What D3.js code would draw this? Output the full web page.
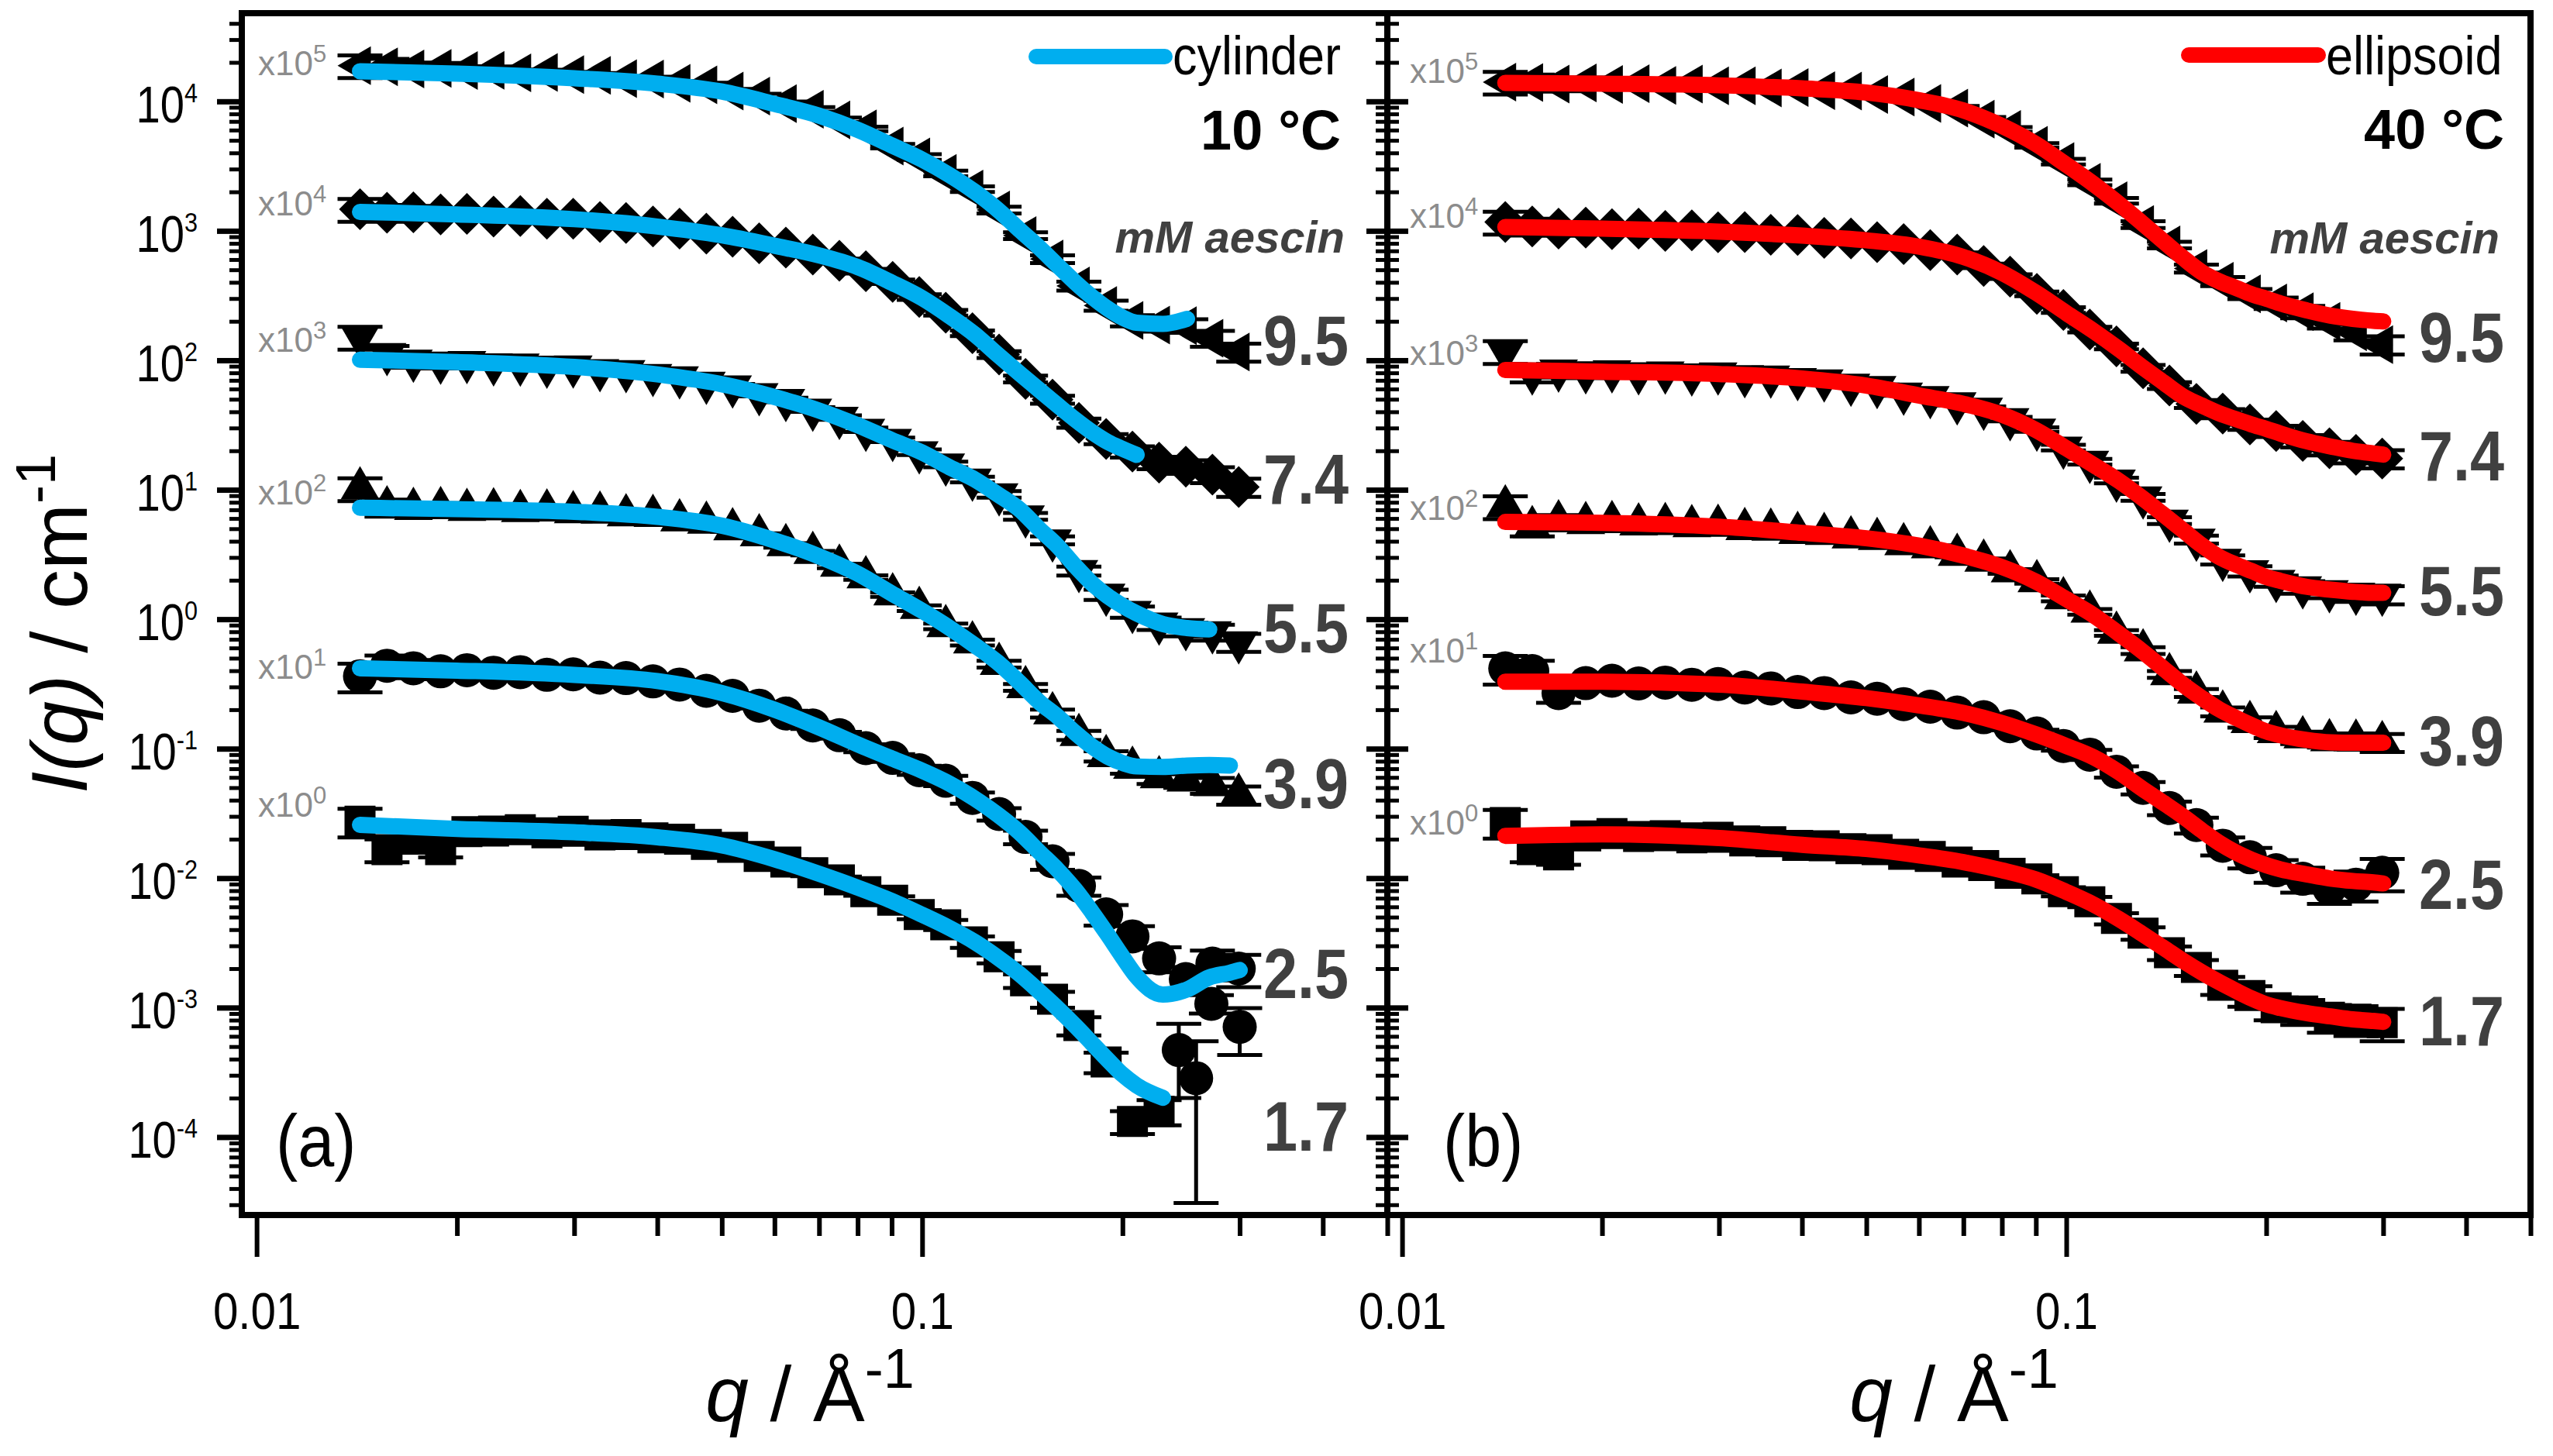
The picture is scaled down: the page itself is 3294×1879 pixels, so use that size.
<!DOCTYPE html>
<html>
<head>
<meta charset="utf-8">
<script src="https://cdn.jsdelivr.net/npm/d3@7"></script>
<style>
  body { margin: 0; background: #fff; }
  svg { display: block; background: #fff; }
  text { font-family: "Liberation Sans", Arial, Helvetica, sans-serif; }
</style>
</head>
<body>
<svg id="chart" width="3294" height="1879"></svg>
<script>
// q grids (1/Å)
const qFit = [0.0143, 0.02, 0.03, 0.04, 0.05, 0.06, 0.07, 0.08, 0.09, 0.10, 0.11, 0.12, 0.13,
  0.14, 0.15, 0.16, 0.17, 0.18, 0.19, 0.20, 0.21, 0.23, 0.25, 0.27, 0.29, 0.30];
const qData = [0.0143, 0.0157, 0.0172, 0.0189, 0.0207, 0.0227, 0.0249, 0.0273, 0.0299, 0.0328,
  0.0359, 0.0394, 0.0432, 0.0474, 0.0519, 0.0569, 0.0624, 0.0685, 0.0751, 0.0823, 0.0903,
  0.0990, 0.1085, 0.119, 0.1305, 0.143, 0.157, 0.172, 0.189, 0.207, 0.227, 0.249, 0.273, 0.299];

// series: mM aescin, vertical offset (x10^n), marker
const concLabels = ["9.5", "7.4", "5.5", "3.9", "2.5", "1.7"];
const offsetExp = [5, 4, 3, 2, 1, 0];
const markerShapes = ["left", "diamond", "down", "up", "circle", "square"];

// relative errors (upper four series / lower two series)
const relErrHigh = [0.20, 0.15, 0.12, 0.10, 0.08, 0.07, 0.06, 0.05, 0.05, 0.04, 0.04, 0.04, 0.04,
  0.04, 0.04, 0.04, 0.04, 0.04, 0.04, 0.04, 0.04, 0.05, 0.05, 0.05, 0.06, 0.06, 0.07, 0.08,
  0.09, 0.10, 0.11, 0.12, 0.14, 0.16];
const relErrLow = [0.25, 0.20, 0.16, 0.13, 0.11, 0.09, 0.08, 0.07, 0.06, 0.05, 0.05, 0.05, 0.05,
  0.05, 0.05, 0.05, 0.05, 0.06, 0.06, 0.07, 0.07, 0.08, 0.09, 0.10, 0.11, 0.12, 0.14, 0.16,
  0.18, 0.20, 0.22, 0.24, 0.26, 0.28];

// (a) 10 °C - cylinder fits, I(q) in cm^-1 (before offset)
const cyl95 = [0.171, 0.164, 0.151, 0.137, 0.119, 0.0955, 0.0776, 0.0603, 0.0457, 0.0355, 0.0269,
  0.0200, 0.0145, 0.0102, 0.00741, 0.00537, 0.00398, 0.00309, 0.00251, 0.00214, 0.00195, 0.00191, 0.00209];
const cyl74 = [0.140, 0.134, 0.123, 0.108, 0.0923, 0.0767, 0.0646, 0.0525, 0.0398, 0.0302, 0.0219,
  0.0158, 0.0110, 0.00794, 0.00589, 0.00447, 0.00347, 0.00279, 0.00234, 0.00207, 0.00186];
const cyl55 = [0.101, 0.0968, 0.0889, 0.0778, 0.0653, 0.0520, 0.0409, 0.0315, 0.0242, 0.0194, 0.0149,
  0.0120, 0.00918, 0.00706, 0.00497, 0.00365, 0.00256, 0.00189, 0.00151, 0.00127, 0.00111,
  0.000918, 0.000855, 0.000834];
const cyl39 = [0.0726, 0.0708, 0.0676, 0.0618, 0.0528, 0.0406, 0.0306, 0.0225, 0.0158, 0.0116,
  0.00855, 0.00628, 0.00462, 0.00325, 0.00229, 0.00176, 0.00132, 0.00104, 0.000869, 0.000776,
  0.000729, 0.000723, 0.000741, 0.000748, 0.000741];
const cyl25 = [0.0418, 0.0401, 0.0371, 0.0333, 0.0269, 0.0200, 0.0146, 0.0108, 0.00841, 0.00676,
  0.00536, 0.00411, 0.00308, 0.00226, 0.00159, 0.00115, 0.000809, 0.000545, 0.000366, 0.000247,
  0.000174, 0.000126, 0.000138, 0.000171, 0.000186, 0.000195];
const cyl17 = [0.0258, 0.0240, 0.0226, 0.0207, 0.0179, 0.0140, 0.0108, 0.00845, 0.00667, 0.00521,
  0.00411, 0.00321, 0.00243, 0.00182, 0.00133, 0.000980, 0.000721, 0.000530, 0.000396, 0.000304,
  0.000251, 0.000201];

// (a) 10 °C - measured data on qData
const d10_95 = [0.189, 0.185, 0.178, 0.180, 0.173, 0.174, 0.166, 0.167, 0.161, 0.159, 0.150, 0.149,
  0.138, 0.134, 0.120, 0.110, 0.0960, 0.0868, 0.0720, 0.0613, 0.0451, 0.0372, 0.0278, 0.0210,
  0.0145, 0.00920, 0.00605, 0.00375, 0.00265, 0.00203, 0.00187, 0.00185, 0.00148, 0.00116];
const d10_74 = [0.147, 0.138, 0.139, 0.134, 0.135, 0.129, 0.130, 0.124, 0.124, 0.117, 0.115, 0.108,
  0.104, 0.0951, 0.0902, 0.0800, 0.0743, 0.0655, 0.0587, 0.0488, 0.0404, 0.0308, 0.0233, 0.0162,
  0.0111, 0.00718, 0.00497, 0.00328, 0.00247, 0.00197, 0.00162, 0.00151, 0.00131, 0.00105];
const d10_55 = [0.151, 0.112, 0.0995, 0.0962, 0.0973, 0.0933, 0.0931, 0.0895, 0.0897, 0.0841, 0.0826,
  0.0773, 0.0740, 0.0673, 0.0631, 0.0548, 0.0495, 0.0417, 0.0361, 0.0291, 0.0243, 0.0195, 0.0157,
  0.0120, 0.00923, 0.00624, 0.00407, 0.00236, 0.00155, 0.00114, 0.000929, 0.000839, 0.000794, 0.000665];
const d10_39 = [0.102, 0.0729, 0.0708, 0.0718, 0.0697, 0.0705, 0.0682, 0.0690, 0.0668, 0.0664, 0.0632,
  0.0627, 0.0579, 0.0556, 0.0494, 0.0443, 0.0372, 0.0324, 0.0258, 0.0210, 0.0155, 0.0122, 0.00881,
  0.00661, 0.00450, 0.00298, 0.00187, 0.00127, 0.000875, 0.000711, 0.000600, 0.000566, 0.000521, 0.000440];
const d10_25 = [0.0363, 0.0437, 0.0418, 0.0396, 0.0404, 0.0386, 0.0390, 0.0372, 0.0375, 0.0354, 0.0351,
  0.0331, 0.0313, 0.0280, 0.0256, 0.0215, 0.0187, 0.0151, 0.0127, 0.0101, 0.00849, 0.00682, 0.00565,
  0.00417, 0.00313, 0.00208, 0.00135, 0.000871, 0.000525, 0.000355, 0.000240, 0.000166, 0.000219, 0.000200];
const d10_17 = [0.0275, 0.0166, 0.0200, 0.0166, 0.0229, 0.0231, 0.0237, 0.0224, 0.0230, 0.0216, 0.0217,
  0.0205, 0.0200, 0.0182, 0.0173, 0.0147, 0.0133, 0.0110, 0.00971, 0.00785, 0.00676, 0.00524, 0.00436,
  0.00322, 0.00247, 0.00161, 0.00116, 0.000726, 0.000380, 0.000132, 0.000158];
// extra high-q points of the 2.5 mM run (second configuration)
const q10_25x = [0.243, 0.258, 0.272, 0.300];
const d10_25x = [4.7e-5, 2.85e-5, 1.07e-4, 7.1e-5];
const lo10_25x = [2.0e-5, 3.1e-6, 9.0e-5, 4.3e-5];
const hi10_25x = [7.5e-5, 5.5e-5, 1.25e-4, 9.9e-5];

// (b) 40 °C - ellipsoid fits
const ell95 = [0.139, 0.137, 0.133, 0.126, 0.117, 0.102, 0.0851, 0.0646, 0.0468, 0.0324, 0.0229, 0.0162,
  0.0115, 0.00832, 0.00617, 0.00479, 0.00407, 0.00363, 0.00324, 0.00299, 0.00275, 0.00243, 0.00221,
  0.00209, 0.00202, 0.00200];
const ell74 = [0.107, 0.104, 0.0986, 0.0918, 0.0845, 0.0755, 0.0628, 0.0474, 0.0333, 0.0232, 0.0168,
  0.0122, 0.00891, 0.00676, 0.00525, 0.00447, 0.00389, 0.00351, 0.00320, 0.00295, 0.00272, 0.00237,
  0.00216, 0.00200, 0.00191, 0.00187];
const ell55 = [0.0841, 0.0817, 0.0783, 0.0724, 0.0638, 0.0535, 0.0461, 0.0380, 0.0289, 0.0209, 0.0155,
  0.0117, 0.00867, 0.00643, 0.00485, 0.00372, 0.00302, 0.00264, 0.00236, 0.00212, 0.00198, 0.00178,
  0.00169, 0.00163, 0.00160, 0.00160];
const ell39 = [0.0564, 0.0556, 0.0519, 0.0465, 0.0422, 0.0370, 0.0310, 0.0253, 0.0195, 0.0143, 0.0107,
  0.00773, 0.00568, 0.00417, 0.00312, 0.00246, 0.00201, 0.00173, 0.00152, 0.00136, 0.00127, 0.00117,
  0.00112, 0.00111, 0.00111, 0.00111];
const ell25 = [0.0329, 0.0329, 0.0313, 0.0276, 0.0246, 0.0216, 0.0189, 0.0158, 0.0129, 0.0105, 0.00857,
  0.00658, 0.00492, 0.00382, 0.00299, 0.00233, 0.00187, 0.00158, 0.00139, 0.00126, 0.00117, 0.00107,
  0.000993, 0.000951, 0.000927, 0.000910];
const ell17 = [0.0212, 0.0218, 0.0204, 0.0181, 0.0168, 0.0150, 0.0133, 0.0115, 0.00977, 0.00783, 0.00624,
  0.00483, 0.00372, 0.00290, 0.00229, 0.00187, 0.00157, 0.00135, 0.00118, 0.00106, 0.000993, 0.000908,
  0.000855, 0.000811, 0.000789, 0.000776];

// (b) 40 °C - measured data on qData
const d40_95 = [0.141, 0.140, 0.136, 0.139, 0.135, 0.137, 0.133, 0.136, 0.132, 0.132, 0.127, 0.128,
  0.121, 0.120, 0.113, 0.108, 0.0964, 0.0887, 0.0728, 0.0608, 0.0458, 0.0343, 0.0237, 0.0171,
  0.0112, 0.00778, 0.00512, 0.00407, 0.00326, 0.00277, 0.00237, 0.00200, 0.00166, 0.00132];
const d40_74 = [0.117, 0.108, 0.104, 0.106, 0.103, 0.104, 0.100, 0.101, 0.0975, 0.0977, 0.0933, 0.0929,
  0.0883, 0.0873, 0.0817, 0.0789, 0.0711, 0.0655, 0.0536, 0.0443, 0.0326, 0.0245, 0.0173, 0.0128,
  0.00867, 0.00638, 0.00461, 0.00388, 0.00319, 0.00284, 0.00238, 0.00209, 0.00186, 0.00174];
const d40_55 = [0.117, 0.0794, 0.0836, 0.0809, 0.0824, 0.0796, 0.0807, 0.0780, 0.0793, 0.0755, 0.0752,
  0.0718, 0.0702, 0.0650, 0.0624, 0.0555, 0.0521, 0.0466, 0.0424, 0.0352, 0.0292, 0.0212, 0.0165,
  0.0118, 0.00875, 0.00579, 0.00413, 0.00288, 0.00235, 0.00198, 0.00177, 0.00165, 0.00158, 0.00155];
const d40_39 = [0.0741, 0.0513, 0.0568, 0.0551, 0.0560, 0.0538, 0.0542, 0.0521, 0.0525, 0.0495, 0.0490,
  0.0462, 0.0455, 0.0427, 0.0416, 0.0379, 0.0358, 0.0313, 0.0283, 0.0234, 0.0196, 0.0145, 0.0114,
  0.00785, 0.00573, 0.00375, 0.00270, 0.00193, 0.00160, 0.00134, 0.00122, 0.00116, 0.00115, 0.00112];
const d40_25 = [0.0417, 0.0398, 0.0269, 0.0321, 0.0335, 0.0319, 0.0324, 0.0312, 0.0316, 0.0297, 0.0292,
  0.0274, 0.0269, 0.0249, 0.0243, 0.0221, 0.0211, 0.0190, 0.0175, 0.0149, 0.0131, 0.0105, 0.00899,
  0.00664, 0.00498, 0.00348, 0.00257, 0.00178, 0.00145, 0.00115, 0.000989, 0.000832, 0.000891, 0.00110];
const d40_17 = [0.0269, 0.0166, 0.0151, 0.0212, 0.0221, 0.0210, 0.0213, 0.0205, 0.0207, 0.0194, 0.0191,
  0.0179, 0.0178, 0.0169, 0.0166, 0.0153, 0.0147, 0.0133, 0.0125, 0.0109, 0.00986, 0.00787, 0.00656,
  0.00488, 0.00376, 0.00265, 0.00204, 0.00149, 0.00124, 0.000998, 0.000940, 0.000843, 0.000815, 0.000764];

// axis ticks
const xTickMajor = [0.01, 0.1];
const xTickLabels = ["0.01", "0.1"];
const xTickMinor = [0.02, 0.03, 0.04, 0.05, 0.06, 0.07, 0.08, 0.09, 0.2, 0.3, 0.4, 0.5];
const yTickExp = [-4, -3, -2, -1, 0, 1, 2, 3, 4];

const svg = d3.select("#chart");
const yTop = 17, yBot = 1568;
const y = d3.scaleLog().domain([2.5e-5, 4.8e4]).range([yBot, yTop]);
const yMajor = yTickExp.map(e => Math.pow(10, e));
const yMinor = y.ticks(20).filter(v => Math.abs(Math.log10(v) - Math.round(Math.log10(v))) > 1e-6);

const panels = [
  { x0: 312, x1: 1790, color: "#00aeef", model: "cylinder", temp: "10 °C", tag: "(a)",
    fits: [cyl95, cyl74, cyl55, cyl39, cyl25, cyl17],
    data: [d10_95, d10_74, d10_55, d10_39, d10_25, d10_17],
    extra: { series: 4, q: q10_25x, v: d10_25x, lo: lo10_25x, hi: hi10_25x },
    factorX: 333, factorY: [97, 278, 454, 651, 876, 1054],
    concX: 1740, concY: [471, 650, 842, 1043, 1288, 1485],
    legend: [1337, 1503, 73], legendText: [1513, 96],
    tempPos: [1730, 193], aescinPos: [1735, 326], tagPos: [356, 1505], titleX: 1045 },
  { x0: 1790, x1: 3265, color: "#ff0000", model: "ellipsoid", temp: "40 °C", tag: "(b)",
    fits: [ell95, ell74, ell55, ell39, ell25, ell17],
    data: [d40_95, d40_74, d40_55, d40_39, d40_25, d40_17],
    extra: null,
    factorX: 1819, factorY: [107, 294, 471, 671, 855, 1077],
    concX: 3231, concY: [467, 620, 794, 988, 1173, 1349],
    legend: [2824, 2991, 71], legendText: [3001, 96],
    tempPos: [3231, 192], aescinPos: [3225, 327], tagPos: [1862, 1505], titleX: 2521 }
];

function markerPath(shape) {
  switch (shape) {
    case "up": return "M0,-29L25,14L-25,14Z";
    case "down": return "M0,29L25,-14L-25,-14Z";
    case "left": return "M-29,0L14,-25L14,25Z";
    case "diamond": return "M0,-27L27,0L0,27L-27,0Z";
    case "square": return "M-20,-20H20V20H-20Z";
    default: return d3.symbol(d3.symbolCircle, Math.PI * 22 * 22)();
  }
}

// text placed at (x, y), optionally squeezed horizontally
function label(x, yy, sx, size, opts) {
  opts = opts || {};
  const g = svg.append("g").attr("transform", `translate(${x},${yy}) scale(${sx},1)`);
  const t = g.append("text")
    .attr("text-anchor", opts.anchor || "start")
    .attr("font-size", size)
    .attr("fill", opts.fill || "#000");
  if (opts.weight) t.attr("font-weight", opts.weight);
  if (opts.style) t.attr("font-style", opts.style);
  return t;
}

function styleAxis(g, width) {
  g.select(".domain").remove();
  g.selectAll("line").attr("stroke", "#000").attr("stroke-width", width);
  g.attr("font-family", null).attr("font-size", null);
}

panels.forEach((p, pi) => {
  const x = d3.scaleLog().domain([0.0095, 0.5]).range([p.x0, p.x1]);
  const plot = svg.append("g");

  // measured points with error bars
  p.data.forEach((vals, s) => {
    const mult = Math.pow(10, offsetExp[s]);
    const err = s < 4 ? relErrHigh : relErrLow;
    const pts = vals.map((v, i) => ({
      q: qData[i], v: v * mult, lo: v * mult * (1 - err[i]), hi: v * mult * (1 + err[i])
    }));
    if (p.extra && p.extra.series === s) {
      p.extra.q.forEach((q, i) => pts.push({
        q: q, v: p.extra.v[i] * mult, lo: p.extra.lo[i] * mult, hi: p.extra.hi[i] * mult
      }));
    }
    plot.append("path")
      .attr("d", pts.map(d => {
        const cx = x(d.q), y1 = y(d.hi), y2 = y(d.lo);
        return `M${cx},${y1}V${y2}M${cx - 29},${y1}H${cx + 29}M${cx - 29},${y2}H${cx + 29}`;
      }).join(""))
      .attr("fill", "none").attr("stroke", "#000").attr("stroke-width", 5);
    plot.selectAll(null).data(pts).enter().append("path")
      .attr("d", markerPath(markerShapes[s]))
      .attr("transform", d => `translate(${x(d.q)},${y(d.v)})`)
      .attr("fill", "#000");
  });

  // model fits
  const line = d3.line().x(d => x(d[0])).y(d => y(d[1])).curve(d3.curveMonotoneX);
  p.fits.forEach((vals, s) => {
    const mult = Math.pow(10, offsetExp[s]);
    plot.append("path")
      .datum(vals.map((v, i) => [qFit[i], v * mult]))
      .attr("d", line)
      .attr("fill", "none").attr("stroke", p.color).attr("stroke-width", 21)
      .attr("stroke-linecap", "round").attr("stroke-linejoin", "round");
  });

  // bottom axis
  const bMaj = svg.append("g").attr("transform", `translate(0,${yBot})`)
    .call(d3.axisBottom(x).tickValues(xTickMajor).tickSize(54).tickSizeOuter(0)
      .tickFormat((d, i) => xTickLabels[i]));
  styleAxis(bMaj, 6);
  bMaj.selectAll("text").attr("y", 147).attr("dy", 0).attr("font-size", 67)
    .attr("fill", "#000").attr("transform", "scale(0.87,1)");
  const bMin = svg.append("g").attr("transform", `translate(0,${yBot})`)
    .call(d3.axisBottom(x).tickValues(xTickMinor).tickSize(27).tickSizeOuter(0).tickFormat(""));
  styleAxis(bMin, 6);

  // left axis
  if (pi === 0) {
    const lMaj = svg.append("g").attr("transform", `translate(${p.x0},0)`)
      .call(d3.axisLeft(y).tickValues(yMajor).tickSize(32).tickSizeOuter(0).tickFormat(""));
    styleAxis(lMaj, 7);
    const lMin = svg.append("g").attr("transform", `translate(${p.x0},0)`)
      .call(d3.axisLeft(y).tickValues(yMinor).tickSize(16).tickSizeOuter(0).tickFormat(""));
    styleAxis(lMin, 5);
    yTickExp.forEach(e => {
      const t = label(255, y(Math.pow(10, e)) + 27, 0.85, 66, { anchor: "end" });
      t.append("tspan").text("10");
      t.append("tspan").attr("dy", -26).attr("font-size", 36).text(String(e));
    });
  } else {
    [d3.axisLeft, d3.axisRight].forEach(ax => {
      const gMaj = svg.append("g").attr("transform", `translate(${p.x0},0)`)
        .call(ax(y).tickValues(yMajor).tickSize(27).tickSizeOuter(0).tickFormat(""));
      styleAxis(gMaj, 7);
      const gMin = svg.append("g").attr("transform", `translate(${p.x0},0)`)
        .call(ax(y).tickValues(yMinor).tickSize(15).tickSizeOuter(0).tickFormat(""));
      styleAxis(gMin, 5);
    });
  }

  // offset factors
  p.factorY.forEach((fy, s) => {
    const t = label(p.factorX, fy, 1, 44, { fill: "#8c8c8c" });
    t.append("tspan").text("x10");
    t.append("tspan").attr("dy", -17).attr("font-size", 31).text(String(offsetExp[s]));
  });

  // concentrations
  p.concY.forEach((cy, s) => {
    label(p.concX, cy, 0.88, 90, { anchor: "end", weight: "bold", fill: "#404040" }).text(concLabels[s]);
  });

  // legend, temperature, unit
  svg.append("line")
    .attr("x1", p.legend[0]).attr("x2", p.legend[1]).attr("y1", p.legend[2]).attr("y2", p.legend[2])
    .attr("stroke", p.color).attr("stroke-width", 20).attr("stroke-linecap", "round");
  label(p.legendText[0], p.legendText[1], 0.9, 70).text(p.model);
  label(p.tempPos[0], p.tempPos[1], 1, 72, { anchor: "end", weight: "bold" }).text(p.temp);
  label(p.aescinPos[0], p.aescinPos[1], 1, 58,
    { anchor: "end", weight: "bold", style: "italic", fill: "#404040" }).text("mM aescin");
  label(p.tagPos[0], p.tagPos[1], 0.89, 95).text(p.tag);

  // x title
  const xt = label(p.titleX, 1834, 1, 100, { anchor: "middle" });
  xt.append("tspan").attr("font-style", "italic").text("q");
  xt.append("tspan").text(" / Å");
  xt.append("tspan").attr("dy", -43).attr("font-size", 72).text("-1");
});

// frame and shared panel border
svg.append("rect")
  .attr("x", panels[0].x0).attr("y", yTop)
  .attr("width", panels[1].x1 - panels[0].x0).attr("height", yBot - yTop)
  .attr("fill", "none").attr("stroke", "#000").attr("stroke-width", 8);
svg.append("line")
  .attr("x1", panels[1].x0).attr("x2", panels[1].x0).attr("y1", yTop).attr("y2", yBot)
  .attr("stroke", "#000").attr("stroke-width", 8);

// y title
const yt = svg.append("g").attr("transform", "translate(112,805) rotate(-90)")
  .append("text").attr("text-anchor", "middle").attr("font-size", 102).attr("fill", "#000");
yt.append("tspan").attr("font-style", "italic").text("I(q)");
yt.append("tspan").text(" / cm");
yt.append("tspan").attr("dy", -41).attr("font-size", 72).text("-1");
</script>
</body>
</html>
